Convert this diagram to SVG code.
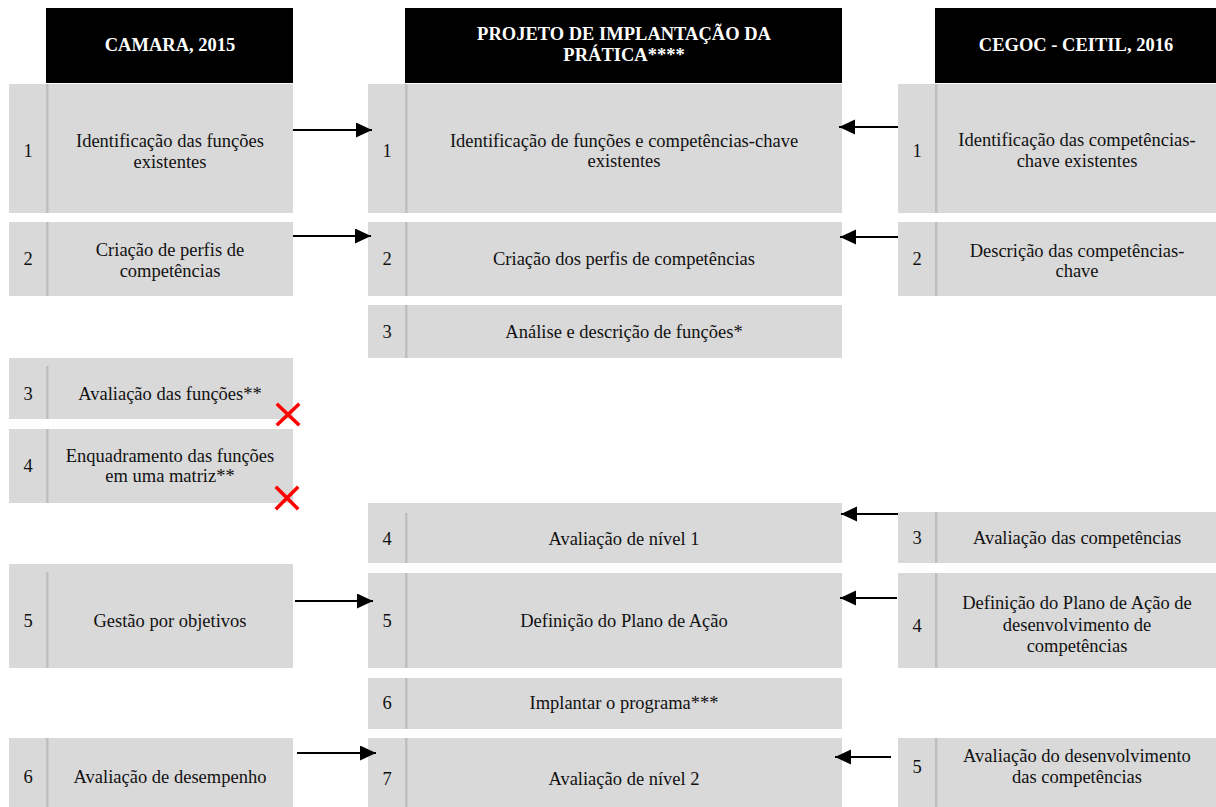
<svg xmlns="http://www.w3.org/2000/svg" width="1216" height="807" viewBox="0 0 1216 807">
  <defs>
    <style>
      .hdr { fill: #000; }
      .hdr-t { font-family: "Liberation Serif", "Times New Roman", serif; font-size: 18.5px; font-weight: bold; fill: #fff; text-anchor: middle; }
      .box { fill: #d9d9d9; }
      .div { stroke: #bfbfbf; stroke-width: 2.5; }
      .t { font-family: "Liberation Serif", "Times New Roman", serif; font-size: 18.5px; fill: #111; text-anchor: middle; }
      .conn { stroke: #000; stroke-width: 2; fill: none; marker-end: url(#arrow); }
      .cross { stroke: #ff0000; stroke-width: 3.5; stroke-linecap: square; }
    </style>
    <marker id="arrow" markerUnits="userSpaceOnUse" markerWidth="16" markerHeight="16" refX="16" refY="7.5" orient="auto">
      <path d="M0,0 L16,7.5 L0,15 Z" fill="#000"/>
    </marker>
  </defs>

  <rect width="1216" height="807" fill="#fff"/>

  <!-- column headers -->
  <g id="header-camara">
    <rect class="hdr" x="46" y="8" width="247" height="75"/>
    <text class="hdr-t" x="170" y="51">CAMARA, 2015</text>
  </g>
  <g id="header-projeto">
    <rect class="hdr" x="405" y="8" width="437" height="75"/>
    <text class="hdr-t" x="624" y="40">PROJETO DE IMPLANTAÇÃO DA</text>
    <text class="hdr-t" x="624" y="61">PRÁTICA****</text>
  </g>
  <g id="header-cegoc">
    <rect class="hdr" x="935" y="8" width="281" height="75"/>
    <text class="hdr-t" x="1076" y="51">CEGOC - CEITIL, 2016</text>
  </g>

  <!-- left column: CAMARA, 2015 -->
  <g id="camara-1">
    <rect class="box" x="9" y="84" width="284" height="129"/>
    <line class="div" x1="47.3" y1="84" x2="47.3" y2="213"/>
    <text class="t" x="28" y="157">1</text>
    <text class="t" x="170" y="146.5">Identificação das funções</text>
    <text class="t" x="170" y="168">existentes</text>
  </g>
  <g id="camara-2">
    <rect class="box" x="9" y="222" width="284" height="74"/>
    <line class="div" x1="47.3" y1="222" x2="47.3" y2="296"/>
    <text class="t" x="28" y="265">2</text>
    <text class="t" x="170" y="255.5">Criação de perfis de</text>
    <text class="t" x="170" y="276.5">competências</text>
  </g>
  <g id="camara-3">
    <rect class="box" x="9" y="358" width="284" height="61"/>
    <line class="div" x1="47.3" y1="366" x2="47.3" y2="419"/>
    <text class="t" x="28" y="400">3</text>
    <text class="t" x="170" y="400">Avaliação das funções**</text>
  </g>
  <g id="camara-4">
    <rect class="box" x="9" y="429" width="284" height="74"/>
    <line class="div" x1="47.3" y1="429" x2="47.3" y2="503"/>
    <text class="t" x="28" y="472">4</text>
    <text class="t" x="170" y="461.5">Enquadramento das funções</text>
    <text class="t" x="170" y="482">em uma matriz**</text>
  </g>
  <g id="camara-5">
    <rect class="box" x="9" y="564" width="284" height="104"/>
    <line class="div" x1="47.3" y1="572" x2="47.3" y2="668"/>
    <text class="t" x="28" y="627">5</text>
    <text class="t" x="170" y="627">Gestão por objetivos</text>
  </g>
  <g id="camara-6">
    <rect class="box" x="9" y="738" width="284" height="69"/>
    <line class="div" x1="47.3" y1="738" x2="47.3" y2="807"/>
    <text class="t" x="28" y="782.5">6</text>
    <text class="t" x="170" y="782.5">Avaliação de desempenho</text>
  </g>

  <!-- discarded steps -->
  <g id="cross-marks">
    <line class="cross" x1="278" y1="405" x2="298" y2="424"/>
    <line class="cross" x1="298" y1="405" x2="278" y2="424"/>
    <line class="cross" x1="277" y1="488" x2="297" y2="508"/>
    <line class="cross" x1="297" y1="488" x2="277" y2="508"/>
  </g>

  <!-- middle column: implementation project -->
  <g id="projeto-1">
    <rect class="box" x="368" y="84" width="474" height="129"/>
    <line class="div" x1="406.3" y1="84" x2="406.3" y2="213"/>
    <text class="t" x="387" y="156.5">1</text>
    <text class="t" x="624" y="146.5">Identificação de funções e competências-chave</text>
    <text class="t" x="624" y="167">existentes</text>
  </g>
  <g id="projeto-2">
    <rect class="box" x="368" y="222" width="474" height="74"/>
    <line class="div" x1="406.3" y1="222" x2="406.3" y2="296"/>
    <text class="t" x="387" y="265">2</text>
    <text class="t" x="624" y="265">Criação dos perfis de competências</text>
  </g>
  <g id="projeto-3">
    <rect class="box" x="368" y="305" width="474" height="53"/>
    <line class="div" x1="406.3" y1="305" x2="406.3" y2="358"/>
    <text class="t" x="387" y="338">3</text>
    <text class="t" x="624" y="338">Análise e descrição de funções*</text>
  </g>
  <g id="projeto-4">
    <rect class="box" x="368" y="503" width="474" height="60"/>
    <line class="div" x1="406.3" y1="513" x2="406.3" y2="563"/>
    <text class="t" x="387" y="544.5">4</text>
    <text class="t" x="624" y="544.5">Avaliação de nível 1</text>
  </g>
  <g id="projeto-5">
    <rect class="box" x="368" y="573" width="474" height="95"/>
    <line class="div" x1="406.3" y1="573" x2="406.3" y2="668"/>
    <text class="t" x="387" y="627">5</text>
    <text class="t" x="624" y="627">Definição do Plano de Ação</text>
  </g>
  <g id="projeto-6">
    <rect class="box" x="368" y="678" width="474" height="51"/>
    <line class="div" x1="406.3" y1="678" x2="406.3" y2="729"/>
    <text class="t" x="387" y="709">6</text>
    <text class="t" x="624" y="709">Implantar o programa***</text>
  </g>
  <g id="projeto-7">
    <rect class="box" x="368" y="738" width="474" height="69"/>
    <line class="div" x1="406.3" y1="738" x2="406.3" y2="807"/>
    <text class="t" x="387" y="784.5">7</text>
    <text class="t" x="624" y="784.5">Avaliação de nível 2</text>
  </g>

  <!-- right column: CEGOC - CEITIL, 2016 -->
  <g id="cegoc-1">
    <rect class="box" x="898" y="84" width="318" height="129"/>
    <line class="div" x1="936.2" y1="84" x2="936.2" y2="213"/>
    <text class="t" x="917" y="157">1</text>
    <text class="t" x="1077" y="145.5">Identificação das competências-</text>
    <text class="t" x="1077" y="167">chave existentes</text>
  </g>
  <g id="cegoc-2">
    <rect class="box" x="898" y="222" width="318" height="74"/>
    <line class="div" x1="936.2" y1="222" x2="936.2" y2="296"/>
    <text class="t" x="917" y="265">2</text>
    <text class="t" x="1077" y="256.5">Descrição das competências-</text>
    <text class="t" x="1077" y="277">chave</text>
  </g>
  <g id="cegoc-3">
    <rect class="box" x="898" y="512" width="318" height="51"/>
    <line class="div" x1="936.2" y1="512" x2="936.2" y2="563"/>
    <text class="t" x="917" y="543.5">3</text>
    <text class="t" x="1077" y="543.5">Avaliação das competências</text>
  </g>
  <g id="cegoc-4">
    <rect class="box" x="898" y="573" width="318" height="95"/>
    <line class="div" x1="936.2" y1="573" x2="936.2" y2="668"/>
    <text class="t" x="917" y="631.5">4</text>
    <text class="t" x="1077" y="609">Definição do Plano de Ação de</text>
    <text class="t" x="1077" y="630.5">desenvolvimento de</text>
    <text class="t" x="1077" y="652">competências</text>
  </g>
  <g id="cegoc-5">
    <rect class="box" x="898" y="738" width="318" height="69"/>
    <line class="div" x1="936.2" y1="738" x2="936.2" y2="807"/>
    <text class="t" x="917" y="773">5</text>
    <text class="t" x="1077" y="762">Avaliação do desenvolvimento</text>
    <text class="t" x="1077" y="783">das competências</text>
  </g>

  <!-- connectors -->
  <g id="connectors">
    <line class="conn" x1="293" y1="130" x2="372" y2="130"/>
    <line class="conn" x1="293" y1="236" x2="371" y2="236"/>
    <line class="conn" x1="295" y1="601" x2="373" y2="601"/>
    <line class="conn" x1="297" y1="753" x2="376" y2="753"/>
    <line class="conn" x1="898" y1="127" x2="839" y2="127"/>
    <line class="conn" x1="898" y1="237" x2="840" y2="237"/>
    <line class="conn" x1="898" y1="514" x2="841" y2="514"/>
    <line class="conn" x1="897" y1="598" x2="840" y2="598"/>
    <line class="conn" x1="891" y1="757" x2="835" y2="757"/>
  </g>
</svg>
